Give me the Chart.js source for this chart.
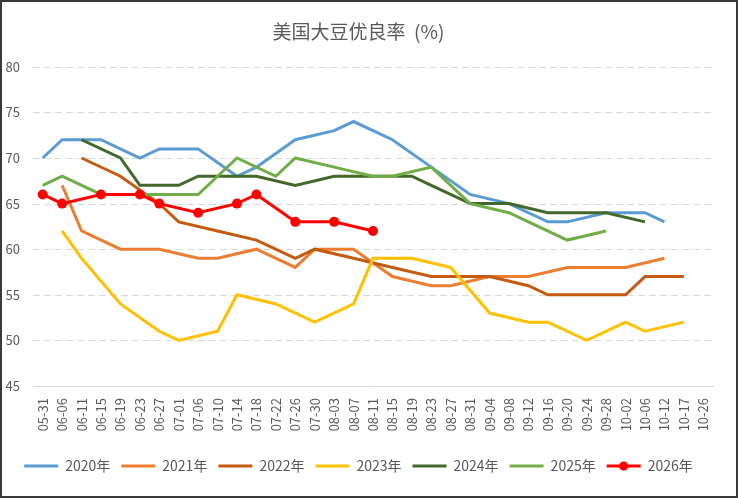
<!DOCTYPE html>
<html>
<head>
<meta charset="utf-8">
<script src="https://cdn.jsdelivr.net/npm/chart.js@4.4.1/dist/chart.umd.min.js"></script>
<style>
  html, body { margin: 0; padding: 0; background: #fff; }
</style>
</head>
<body>
<canvas id="myChart" width="738" height="498"></canvas>
<script>
var categories = ['05-31', '06-06', '06-11', '06-15', '06-19', '06-23', '06-27', '07-01', '07-06', '07-10',
    '07-14', '07-18', '07-22', '07-26', '07-30', '08-03', '08-07', '08-11', '08-15', '08-19',
    '08-23', '08-27', '08-31', '09-04', '09-08', '09-12', '09-16', '09-20', '09-24', '09-28',
    '10-02', '10-06', '10-12', '10-17', '10-26'];

var y2020 = [70, 72, null, 72, null, 70, 71, null, 71, null, 68, 69, null, 72, null, 73, 74, null, 72, null,
    69, null, 66, null, 65, null, 63, 63, null, 64, null, 64, 63, null, null];
var y2021 = [null, 67, 62, null, 60, null, 60, null, 59, 59, null, 60, null, 58, 60, null, 60, null, 57, null,
    56, 56, null, 57, null, 57, null, 58, null, 58, 58, null, 59, null, null];
var y2022 = [null, null, 70, null, 68, null, 65, 63, null, 62, null, 61, null, 59, 60, null, 59, null, 58, null,
    57, 57, null, 57, null, 56, 55, null, 55, null, 55, 57, null, 57, null];
var y2023 = [null, 62, 59, null, 54, null, 51, 50, null, 51, 55, null, 54, null, 52, null, 54, 59, null, 59,
    null, 58, null, 53, null, 52, 52, null, 50, null, 52, 51, null, 52, null];
var y2024 = [null, null, 72, null, 70, 67, null, 67, 68, null, 68, 68, null, 67, null, 68, null, 68, null, 68,
    67, null, 65, null, 65, null, 64, null, 64, 64, null, 63, null, null, null];
var y2025 = [67, 68, null, 66, null, 66, 66, null, 66, null, 70, null, 68, 70, null, 69, null, 68, 68, null,
    69, null, 65, null, 64, 63, null, 61, null, 62, null, null, null, null, null];
var y2026 = [66, 65, null, 66, null, 66, 65, null, 64, null, 65, 66, null, 63, null, 63, null, 62, null, null,
    null, null, null, null, null, null, null, null, null, null, null, null, null, null, null];

var yTicks = [45, 50, 55, 60, 65, 70, 75, 80];

var seriesNames = ['2020年', '2021年', '2022年', '2023年', '2024年', '2025年', '2026年'];
var seriesData = [y2020, y2021, y2022, y2023, y2024, y2025, y2026];
var seriesColors = ['#5B9BD5', '#ED7D31', '#C55A11', '#FFC000', '#43682B', '#70AD47', '#FF0000'];

var font = "'Noto Sans CJK SC', 'Noto Sans', sans-serif";
var gray = '#595959';

var datasets = seriesNames.map(function (name, i) {
    var last = i === seriesNames.length - 1;
    return {
        label: name,
        data: seriesData[i],
        borderColor: seriesColors[i],
        backgroundColor: seriesColors[i],
        borderWidth: 3,
        pointRadius: last ? 5 : 0,
        pointHoverRadius: last ? 5 : 0,
        pointBackgroundColor: seriesColors[i],
        pointBorderWidth: 0,
        spanGaps: true,
        tension: 0,
        order: seriesNames.length - i
    };
});

// background, dashed grid, legend dot and the frame
var extras = {
    id: 'extras',
    beforeDraw: function (chart) {
        var c = chart.ctx;
        c.save();
        c.fillStyle = '#fff';
        c.fillRect(0, 0, chart.width, chart.height);
        c.restore();
    },
    beforeDatasetsDraw: function (chart) {
        var c = chart.ctx;
        var area = chart.chartArea;
        var ys = chart.scales.y;
        c.save();
        c.strokeStyle = '#D9D9D9';
        c.lineWidth = 1;
        c.setLineDash([7, 4]);
        yTicks.forEach(function (v) {
            if (v === ys.min) return;
            var py = Math.round(ys.getPixelForValue(v)) + 0.5;
            c.beginPath();
            c.moveTo(area.left, py);
            c.lineTo(area.right, py);
            c.stroke();
        });
        c.restore();
    },
    afterDraw: function (chart) {
        var c = chart.ctx;
        c.save();
        var boxes = chart.legend.legendHitBoxes;
        var items = chart.legend.legendItems;
        items.forEach(function (it, k) {
            if (it.datasetIndex === seriesNames.length - 1) {
                var b = boxes[k];
                c.fillStyle = seriesColors[seriesNames.length - 1];
                c.beginPath();
                c.arc(b.left + 17, b.top + b.height / 2, 4.5, 0, Math.PI * 2);
                c.fill();
            }
        });
        c.strokeStyle = '#3a3a3a';
        c.lineWidth = 2;
        c.strokeRect(1, 1, chart.width - 2, chart.height - 2);
        c.restore();
    }
};

var ctx = document.getElementById('myChart').getContext('2d');
var myChart = new Chart(ctx, {
    type: 'line',
    data: {
        labels: categories,
        datasets: datasets
    },
    options: {
        responsive: false,
        animation: false,
        devicePixelRatio: 1,
        layout: { padding: { left: 4, right: 25, top: 0, bottom: 15 } },
        plugins: {
            title: {
                display: true,
                text: '美国大豆优良率  (%)',
                color: gray,
                font: { family: font, size: 19, weight: 'normal' },
                padding: { top: 20, bottom: 24 }
            },
            legend: {
                position: 'bottom',
                labels: {
                    color: gray,
                    font: { family: font, size: 14 },
                    boxWidth: 34,
                    boxHeight: 3,
                    padding: 11,
                    sort: function (a, b) { return a.datasetIndex - b.datasetIndex; },
                    generateLabels: function (chart) {
                        var items = Chart.defaults.plugins.legend.labels.generateLabels(chart);
                        items.forEach(function (it) { it.lineWidth = 0; });
                        return items;
                    }
                }
            },
            tooltip: { enabled: false }
        },
        scales: {
            x: {
                offset: true,
                grid: { display: false },
                border: { display: true, color: '#D9D9D9', width: 1 },
                ticks: {
                    color: gray,
                    font: { family: font, size: 13 },
                    autoSkip: false,
                    minRotation: 90,
                    maxRotation: 90,
                    padding: 4
                },
                afterFit: function (scale) { scale.height = 62; }
            },
            y: {
                min: 45,
                max: 80,
                afterBuildTicks: function (scale) {
                    scale.ticks = yTicks.map(function (v) { return { value: v }; });
                },
                border: { display: false },
                grid: { display: false },
                ticks: {
                    color: gray,
                    font: { family: font, size: 13 },
                    padding: 5
                },
                afterFit: function (scale) { scale.width = 29; }
            }
        }
    },
    plugins: [extras]
});
</script>
</body>
</html>
